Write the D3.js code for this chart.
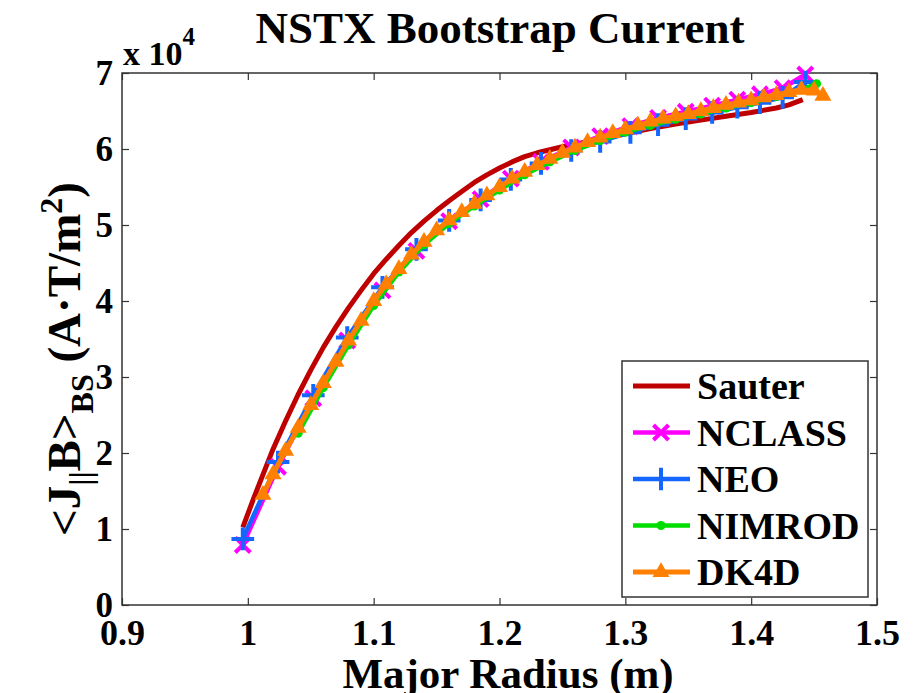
<!DOCTYPE html>
<html>
<head>
<meta charset="utf-8">
<script src="https://cdn.jsdelivr.net/npm/d3@7/dist/d3.min.js"></script>
<style>
  body { margin: 0; background: #fff; }
  svg text { font-family: "Liberation Serif", "Times New Roman", serif; font-weight: bold; fill: #000; }
</style>
</head>
<body>
<svg id="chart" width="914" height="693"></svg>
<script>
// values in units of 1e4 A.T/m^2
var sauterR = [0.996, 1.005, 1.01, 1.02, 1.03, 1.04, 1.05, 1.06, 1.07, 1.08, 1.09, 1.10, 1.11, 1.12, 1.13, 1.14, 1.15, 1.16, 1.17, 1.18, 1.19, 1.20, 1.21, 1.22, 1.23, 1.24, 1.25, 1.26, 1.27, 1.28, 1.30, 1.32, 1.34, 1.36, 1.38, 1.40, 1.42, 1.43, 1.441];
var sauterJ = [1.02, 1.42, 1.63, 2.05, 2.42, 2.77, 3.09, 3.39, 3.66, 3.91, 4.14, 4.36, 4.55, 4.73, 4.90, 5.05, 5.19, 5.32, 5.44, 5.56, 5.66, 5.75, 5.83, 5.90, 5.95, 5.99, 6.03, 6.06, 6.10, 6.13, 6.20, 6.27, 6.33, 6.38, 6.43, 6.48, 6.54, 6.58, 6.65];

var neoR = [0.996, 1.024, 1.052, 1.079, 1.107, 1.134, 1.160, 1.185, 1.209, 1.233, 1.257, 1.280, 1.304, 1.326, 1.348, 1.369, 1.389, 1.407, 1.425, 1.443];
var nclassJ = [0.79, 1.82, 2.72, 3.48, 4.14, 4.66, 5.05, 5.34, 5.61, 5.83, 6.02, 6.17, 6.30, 6.41, 6.49, 6.57, 6.65, 6.72, 6.80, 6.98];
var neoJ = [0.87, 1.88, 2.76, 3.52, 4.18, 4.68, 5.06, 5.33, 5.60, 5.81, 5.98, 6.10, 6.22, 6.32, 6.40, 6.48, 6.55, 6.61, 6.68, 6.88];

var nimrodR = [1.040, 1.06, 1.08, 1.10, 1.12, 1.14, 1.16, 1.18, 1.20, 1.22, 1.24, 1.26, 1.28, 1.30, 1.32, 1.34, 1.36, 1.38, 1.40, 1.42, 1.44, 1.452];
var nimrodJ = [2.26, 2.86, 3.42, 3.94, 4.38, 4.74, 5.02, 5.25, 5.46, 5.66, 5.83, 5.98, 6.11, 6.22, 6.31, 6.39, 6.46, 6.54, 6.61, 6.69, 6.78, 6.86];

var dk4dR = [1.012, 1.02, 1.03, 1.04, 1.05, 1.06, 1.07, 1.08, 1.09, 1.10, 1.11, 1.12, 1.13, 1.14, 1.15, 1.16, 1.17, 1.18, 1.19, 1.20, 1.21, 1.22, 1.23, 1.24, 1.25, 1.26, 1.27, 1.28, 1.29, 1.30, 1.31, 1.32, 1.33, 1.34, 1.35, 1.36, 1.37, 1.38, 1.39, 1.40, 1.41, 1.42, 1.43, 1.44, 1.45, 1.457];
var dk4dJ = [1.45, 1.72, 2.03, 2.33, 2.63, 2.92, 3.20, 3.48, 3.74, 4.00, 4.22, 4.42, 4.61, 4.78, 4.93, 5.06, 5.17, 5.28, 5.39, 5.50, 5.61, 5.70, 5.79, 5.87, 5.95, 6.02, 6.09, 6.15, 6.21, 6.26, 6.31, 6.36, 6.40, 6.43, 6.46, 6.50, 6.54, 6.58, 6.61, 6.64, 6.68, 6.71, 6.75, 6.78, 6.77, 6.70];

var xTicks = [0.9, 1.0, 1.1, 1.2, 1.3, 1.4, 1.5];
var yTicks = [0, 1, 2, 3, 4, 5, 6, 7];

var seriesNames = ['Sauter', 'NCLASS', 'NEO', 'NIMROD', 'DK4D'];
var seriesColors = ['#bf0000', '#ff00ff', '#1466ff', '#00dd00', '#ff8000'];

var svg = d3.select('#chart');
var plot = { left: 122, right: 877, top: 73, bottom: 605 };

var x = d3.scaleLinear().domain([0.9, 1.5]).range([plot.left, plot.right]);
var y = d3.scaleLinear().domain([0, 7]).range([plot.bottom, plot.top]);

function zip(rs, js) {
  return rs.map(function(r, i) { return { r: r, j: js[i] }; });
}

var series = [
  { name: 'Sauter', pts: zip(sauterR, sauterJ), marker: null, width: 5 },
  { name: 'NCLASS', pts: zip(neoR, nclassJ), marker: 'times', width: 4.5 },
  { name: 'NEO', pts: zip(neoR, neoJ), marker: 'plus', width: 4.5 },
  { name: 'NIMROD', pts: zip(nimrodR, nimrodJ), marker: 'dot', width: 4.5 },
  { name: 'DK4D', pts: zip(dk4dR, dk4dJ), marker: 'tri', width: 5 }
];
series.forEach(function(s) { s.color = seriesColors[seriesNames.indexOf(s.name)]; });

// frame + axes
svg.append('rect')
  .attr('x', plot.left).attr('y', plot.top)
  .attr('width', plot.right - plot.left).attr('height', plot.bottom - plot.top)
  .attr('fill', 'none').attr('stroke', '#333').attr('stroke-width', 1.5);

function styleAxis(g, size) {
  g.select('.domain').remove();
  g.selectAll('.tick line').attr('stroke', '#333').attr('stroke-width', 1.2);
  g.selectAll('.tick text').attr('fill', '#000').style('font-size', size + 'px');
}

svg.append('g').attr('transform', 'translate(0,' + plot.bottom + ')')
  .call(d3.axisBottom(x).tickValues(xTicks).tickSize(-7).tickPadding(14).tickFormat(d3.format('~g')))
  .call(styleAxis, 36);
svg.append('g').attr('transform', 'translate(0,' + plot.top + ')')
  .call(d3.axisTop(x).tickValues(xTicks).tickSize(-7).tickFormat(''))
  .call(styleAxis, 36);
svg.append('g').attr('transform', 'translate(' + plot.left + ',0)')
  .call(d3.axisLeft(y).tickValues(yTicks).tickSize(-7).tickPadding(9).tickFormat(d3.format('d')))
  .call(styleAxis, 35);
svg.append('g').attr('transform', 'translate(' + plot.right + ',0)')
  .call(d3.axisRight(y).tickValues(yTicks).tickSize(-7).tickFormat(''))
  .call(styleAxis, 35);

// lines
var line = d3.line()
  .x(function(d) { return x(d.r); })
  .y(function(d) { return y(d.j); });

function drawMarker(g, kind, color, cx, cy) {
  if (kind === 'times') {
    g.append('path')
      .attr('d', d3.symbol(d3.symbolTimes, 150)())
      .attr('transform', 'translate(' + cx + ',' + cy + ')')
      .attr('fill', 'none').attr('stroke', color).attr('stroke-width', 4);
  } else if (kind === 'plus') {
    g.append('path')
      .attr('d', d3.symbol(d3.symbolPlus, 170)())
      .attr('transform', 'translate(' + cx + ',' + cy + ')')
      .attr('fill', 'none').attr('stroke', color).attr('stroke-width', 4);
  } else if (kind === 'dot') {
    g.append('circle').attr('cx', cx).attr('cy', cy).attr('r', 4.5).attr('fill', color);
  } else if (kind === 'tri') {
    g.append('path')
      .attr('d', d3.symbol(d3.symbolTriangle, 70)())
      .attr('transform', 'translate(' + cx + ',' + cy + ')')
      .attr('fill', color).attr('stroke', color).attr('stroke-width', 2.5);
  }
}

var curves = svg.append('g');
series.forEach(function(s) {
  var g = curves.append('g');
  g.append('path').datum(s.pts)
    .attr('d', line)
    .attr('fill', 'none')
    .attr('stroke', s.color)
    .attr('stroke-width', s.width)
    .attr('stroke-linejoin', 'round');
  if (s.marker) {
    s.pts.forEach(function(p) {
      drawMarker(g, s.marker, s.color, x(p.r), y(p.j));
    });
  }
});

// title and labels
svg.append('text').attr('x', 500).attr('y', 43)
  .attr('text-anchor', 'middle').style('font-size', '45px')
  .text('NSTX Bootstrap Current');

var mult = svg.append('text').attr('x', 123).attr('y', 65).style('font-size', '34px');
mult.append('tspan').text('x 10');
mult.append('tspan').attr('dy', -20).style('font-size', '25px').text('4');

svg.append('text').attr('x', 508).attr('y', 688)
  .attr('text-anchor', 'middle').style('font-size', '43px')
  .text('Major Radius (m)');

var ylab = svg.append('text')
  .attr('transform', 'translate(80,359) rotate(-90)')
  .attr('text-anchor', 'middle').style('font-size', '47px');
ylab.append('tspan').text('<J');
ylab.append('tspan').attr('dy', 11).style('font-size', '32px').text('||');
ylab.append('tspan').attr('dy', -11).text('B>');
ylab.append('tspan').attr('dy', 13).style('font-size', '32px').text('BS');
ylab.append('tspan').attr('dy', -13).text(' (A\u00b7T/m');
ylab.append('tspan').attr('dy', -18).style('font-size', '32px').text('2');
ylab.append('tspan').attr('dy', 18).text(')');

// legend
var lg = svg.append('g');
lg.append('rect').attr('x', 622).attr('y', 361).attr('width', 246).attr('height', 236)
  .attr('fill', '#fff').attr('stroke', '#333').attr('stroke-width', 1.5);
series.forEach(function(s, i) {
  var ly = 386 + i * 46.5;
  lg.append('line').attr('x1', 633).attr('x2', 690).attr('y1', ly).attr('y2', ly)
    .attr('stroke', s.color).attr('stroke-width', s.width);
  if (s.marker) drawMarker(lg, s.marker, s.color, 661, ly);
  lg.append('text').attr('x', 697).attr('y', ly).attr('dy', '0.35em')
    .style('font-size', '38px').text(s.name);
});
</script>
</body>
</html>
